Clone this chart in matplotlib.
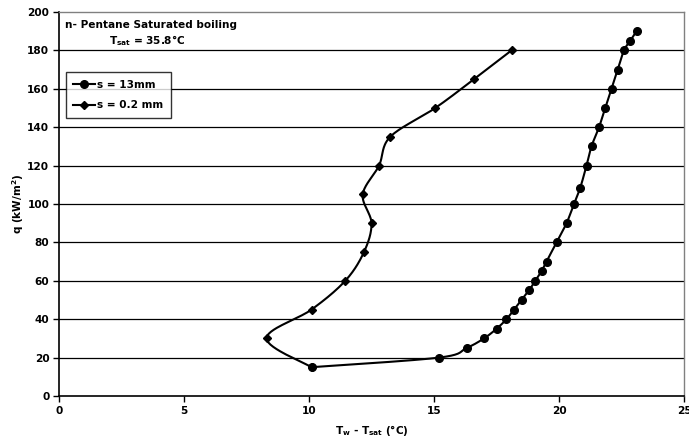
import numpy as np
import matplotlib
matplotlib.use("Agg")
import matplotlib.pyplot as plt
from matplotlib.lines import Line2D

plt.rcParams['font.family'] = ['DejaVu Sans']
plt.rcParams['font.weight'] = 'bold'
plt.rcParams['mathtext.fontset'] = 'custom'
plt.rcParams['mathtext.rm'] = 'DejaVu Sans:bold'
plt.rcParams['mathtext.it'] = 'DejaVu Sans:bold'
plt.rcParams['mathtext.bf'] = 'DejaVu Sans:bold'

FS = 7.6

# s = 13 mm (circles)
dt_13 = [10.1, 15.2, 16.3, 17.0, 17.5, 17.9, 18.2, 18.5, 18.8, 19.05, 19.3, 19.5,
         19.9, 20.3, 20.6, 20.85, 21.1, 21.3, 21.6, 21.85, 22.1, 22.35, 22.6, 22.85, 23.1]
q_13 = [15, 20, 25, 30, 35, 40, 45, 50, 55, 60, 65, 70,
        80, 90, 100, 108.5, 120, 130, 140, 150, 160, 170, 180, 185, 190]

# s = 0.2 mm (diamonds)
dt_02 = [10.1, 8.3, 10.1, 11.45, 12.2, 12.5, 12.15, 12.8, 13.25, 15.05, 16.6, 18.1]
q_02 = [15, 30, 45, 60, 75, 90, 105, 120, 135, 150, 165, 180]

x_ticks = [0, 5, 10, 15, 20, 25]
y_ticks = [0, 20, 40, 60, 80, 100, 120, 140, 160, 180, 200]
series_labels = ['s = 13mm', 's = 0.2 mm']


def smooth(x, y, n=30):
    """Catmull-Rom (Excel-like smoothed line) through the points."""
    p = np.column_stack([x, y]).astype(float)
    if len(p) < 3:
        return p[:, 0], p[:, 1]
    ext = np.vstack([p[0], p, p[-1]])
    out = []
    t = np.linspace(0, 1, n, endpoint=False)
    for i in range(1, len(ext) - 2):
        p0, p1, p2, p3 = ext[i - 1], ext[i], ext[i + 1], ext[i + 2]
        c1 = p1 + (p2 - p0) / 6.0
        c2 = p2 - (p3 - p1) / 6.0
        for tt in t:
            b = ((1 - tt) ** 3) * p1 + 3 * ((1 - tt) ** 2) * tt * c1 + 3 * (1 - tt) * tt ** 2 * c2 + tt ** 3 * p2
            out.append(b)
    out.append(p[-1])
    out = np.array(out)
    return out[:, 0], out[:, 1]


fig = plt.figure(figsize=(6.89, 4.43), dpi=100)
ax = fig.add_axes([59 / 689, 1 - 396 / 443, (684 - 59) / 689, (396 - 12) / 443])

for yv in y_ticks[1:-1]:
    ax.axhline(yv, color='black', lw=0.9, zorder=1)

sx, sy = smooth(dt_13, q_13)
ax.plot(sx, sy, color='black', lw=1.5, zorder=3)
ax.plot(dt_13, q_13, linestyle='none', marker='o', ms=5.5, color='black', zorder=4)

sx, sy = smooth(dt_02, q_02)
ax.plot(sx, sy, color='black', lw=1.5, zorder=3)
ax.plot(dt_02, q_02, linestyle='none', marker='D', ms=4, color='black', zorder=4)

ax.set_xlim(0, 25)
ax.set_ylim(0, 200)
ax.set_xticks(x_ticks)
ax.set_yticks(y_ticks)
ax.tick_params(axis='both', direction='out', length=4, width=1, labelsize=FS, pad=3)
for lab in ax.get_xticklabels() + ax.get_yticklabels():
    lab.set_fontweight('bold')

ax.spines['left'].set_color('black')
ax.spines['bottom'].set_color('black')
ax.spines['left'].set_linewidth(1.2)
ax.spines['bottom'].set_linewidth(1.2)
ax.spines['top'].set_color('#808080')
ax.spines['right'].set_color('#808080')
ax.spines['top'].set_linewidth(1.0)
ax.spines['right'].set_linewidth(1.0)

ax.set_xlabel(r'T$_{\mathregular{w}}$ - T$_{\mathregular{sat}}$ (°C)', fontsize=FS, fontweight='bold', labelpad=5)
ax.set_ylabel(r'q (kW/m$^{\mathregular{2}}$)', fontsize=FS, fontweight='bold', labelpad=1)

ax.text(0.009, 0.966, 'n- Pentane Saturated boiling', transform=ax.transAxes,
        fontsize=FS, fontweight='bold', ha='left', va='center')
ax.text(0.141, 0.925, r'T$_{\mathregular{sat}}$ = 35.8°C', transform=ax.transAxes,
        fontsize=FS, fontweight='bold', ha='center', va='center')

handles = [Line2D([], [], color='black', lw=1.5, marker='o', ms=5.5),
           Line2D([], [], color='black', lw=1.5, marker='D', ms=4)]
leg = ax.legend(handles, series_labels, loc='upper left',
                bbox_to_anchor=(0.0105, 0.844), borderaxespad=0, frameon=True, fancybox=False,
                edgecolor='black', fontsize=FS, handlelength=2.0, handletextpad=0.25,
                borderpad=0.75, labelspacing=1.0)
leg.get_frame().set_linewidth(1.0)
for t in leg.get_texts():
    t.set_fontweight('bold')

fig.savefig('out.png', dpi=100)
